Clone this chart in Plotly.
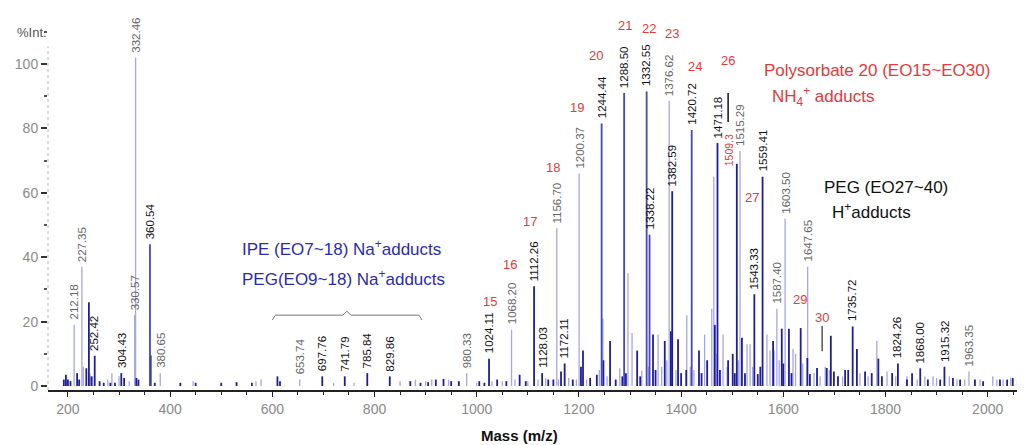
import plotly.graph_objects as go

# ---------------- data ----------------
# labelled peaks (m/z, relative intensity %, tone d=dark, m=mid, l=light)
lab_mz = [212.18, 227.35, 252.42, 304.43, 330.57, 332.46, 360.54, 380.65, 653.74, 697.76,
          741.79, 785.84, 829.86, 980.33, 1024.11, 1068.20, 1112.26, 1128.03, 1156.70, 1172.11,
          1200.37, 1244.44, 1288.50, 1332.55, 1338.22, 1376.62, 1382.59, 1420.72, 1471.18, 1515.29,
          1543.33, 1559.41, 1587.40, 1603.50, 1647.65, 1735.72, 1824.26, 1868.00, 1915.32, 1963.35]
lab_int = [19, 37, 9.4, 4, 22, 102, 44, 4, 2, 3,
           3, 4, 3, 4, 8.5, 17.5, 31, 4, 49, 7,
           66, 81.5, 91, 91.5, 47, 88.5, 60.5, 79.5, 75.5, 73,
           28.5, 65, 24, 52, 37, 18.5, 7, 5.5, 6, 4.5]
lab_tone = ['l', 'l', 'd', 'd', 'l', 'l', 'm', 'l', 'l', 'd',
            'd', 'd', 'd', 'l', 'd', 'l', 'd', 'd', 'l', 'd',
            'l', 'm', 'm', 'm', 'm', 'l', 'd', 'm', 'd', 'l',
            'd', 'd', 'l', 'l', 'l', 'd', 'd', 'd', 'd', 'l']

# unlabelled peaks, dark blue
dark_mz = [192, 196, 200, 205, 218, 222, 236, 241, 246, 262, 270, 283, 292, 310, 334, 338, 362, 370,
           420, 450, 500, 530, 560, 610, 615, 870, 890, 905, 920, 935, 950, 965,
           1005, 1015, 1040, 1058, 1084, 1096, 1140, 1150, 1165, 1188, 1204, 1208,
           1222, 1235, 1248, 1261, 1272, 1285, 1292, 1314, 1320, 1345, 1350, 1368, 1380, 1394,
           1400, 1410, 1435, 1440, 1451, 1466, 1476,
           1492, 1501, 1505, 1509, 1519, 1525, 1550, 1555, 1580, 1597, 1600, 1611, 1616, 1634,
           1647, 1652, 1666, 1685, 1693, 1699, 1707,
           1721, 1727, 1744, 1760, 1773, 1786, 1793, 1813, 1842, 1852, 1883, 1907, 1932, 1946,
           1975, 1991, 2024, 2038, 2049, 2059, 2068]
dark_int = [2, 3.5, 2, 1.5, 4, 2, 5.5, 26, 3, 1.5, 1, 1, 1, 2.5, 2.5, 2, 9.5, 1,
            1, 1, 1, 1.2, 1, 3, 1.5, 1.5, 1, 1.2, 2, 2.2, 1.5, 1.5,
            1.5, 1, 2, 1.5, 3.5, 1.5, 2, 2, 4.5, 2, 6, 11,
            2.5, 3.5, 8, 14, 2, 3, 4, 11, 3, 16, 5, 14, 17, 14.5,
            4, 5, 11, 4, 8, 19, 5,
            8, 10, 4, 69, 15, 4, 3.7, 6, 14, 17.8, 7, 17.8, 4, 18,
            8.7, 3.7, 5.6, 5.6, 15.6, 4.5, 3,
            5, 5, 11.5, 4.5, 4, 8.5, 3, 4, 2, 4, 2, 2, 2.5, 2,
            2, 1.5, 2, 2, 2.5, 2, 1.5]

# unlabelled peaks, light blue
light_mz = [198, 230, 243, 248, 278, 286, 300, 320,
            445, 568, 578, 720, 760, 850, 880, 900, 912, 945,
            1000, 1030, 1050, 1075, 1100, 1120, 1135, 1160, 1180, 1195,
            1215, 1240, 1247, 1255, 1280, 1296, 1304, 1323, 1336, 1355, 1362, 1372, 1390,
            1411, 1418, 1425, 1446, 1460, 1464, 1470,
            1482, 1490, 1512, 1529, 1535, 1540, 1568, 1574, 1582, 1592, 1619, 1624, 1638,
            1660, 1672, 1682, 1690,
            1716, 1750, 1766, 1783, 1803, 1820, 1842, 1862, 1877, 1893, 1900, 1925, 1940,
            1955, 1985, 2010, 2018, 2030, 2045, 2062]
light_int = [1.5, 6, 4, 3, 2, 4, 3, 1.5,
             1.5, 1.5, 2, 1, 1, 1.5, 2, 1.5, 2, 2,
             1, 1.5, 1.5, 2, 1.5, 2, 2.5, 2, 2.5, 2,
             2, 5, 21, 3, 5.5, 35, 16.5, 4.7, 6, 16, 6, 8, 5,
             22, 6, 5, 16, 24, 65, 10,
             16, 6, 8, 13, 13, 6, 16, 11, 11, 8, 11.5, 10, 7,
             4, 3, 6, 5,
             3, 4, 3, 14, 4.5, 3, 3, 2, 3, 3, 2.5, 3, 2,
             2, 2, 3, 2, 2, 2.5, 2]

# series numbers (EO units) for Polysorbate 20 NH4+ adducts
eo_numbers = ['15', '16', '17', '18', '19', '20', '21', '22', '23', '24', '26', '27', '29', '30']
eo_mz = [1026, 1065, 1104, 1149, 1196, 1233, 1290, 1337, 1382, 1427, 1492, 1539, 1632, 1676]
eo_int = [26.3, 37.8, 51.1, 67.8, 86.4, 102.8, 112.1, 111.1, 109.6, 99.1, 101.2, 58.5, 26.9, 21.4]

x_ticks = [200, 400, 600, 800, 1000, 1200, 1400, 1600, 1800, 2000]
y_ticks = [0, 20, 40, 60, 80, 100]

# ---------------- styles ----------------
TONE = {'d': '#1e1e9c', 'm': '#4646c8', 'l': '#a6a6e8'}
LABEL_COL = {'d': '#111111', 'm': '#111111', 'l': '#666666'}
WIDTH = {'d': 1.8, 'm': 1.8, 'l': 1.3}
RED = '#e8383a'
BLUE = '#2b2bb0'
FONT = 'Liberation Sans, Arial, sans-serif'


def sticks(mz, inten):
    xs, ys = [], []
    for m, h in zip(mz, inten):
        xs += [m, m, None]
        ys += [0, h, None]
    return xs, ys


fig = go.Figure()

groups = {
    'l': ([m for m, t in zip(lab_mz, lab_tone) if t == 'l'] + light_mz,
          [h for h, t in zip(lab_int, lab_tone) if t == 'l'] + light_int),
    'd': ([m for m, t in zip(lab_mz, lab_tone) if t == 'd'] + dark_mz,
          [h for h, t in zip(lab_int, lab_tone) if t == 'd'] + dark_int),
    'm': ([m for m, t in zip(lab_mz, lab_tone) if t == 'm'],
          [h for h, t in zip(lab_int, lab_tone) if t == 'm']),
}
for tone in ['l', 'd', 'm']:
    xs, ys = sticks(*groups[tone])
    fig.add_trace(go.Scatter(x=xs, y=ys, mode='lines',
                             line=dict(color=TONE[tone], width=WIDTH[tone]),
                             hoverinfo='skip', showlegend=False))

annotations = []
# peak m/z labels
for m, h, t in zip(lab_mz, lab_int, lab_tone):
    annotations.append(dict(x=m, y=h, xref='x', yref='y', text=f'{m:.2f}',
                            textangle=-90, showarrow=False, xanchor='center',
                            yanchor='bottom', yshift=3,
                            font=dict(family=FONT, size=11.5, color=LABEL_COL[t])))
# extra red rotated label
annotations.append(dict(x=1493, y=67.5, text='1509.3', textangle=-90, showarrow=False,
                        xanchor='center', yanchor='bottom',
                        font=dict(family=FONT, size=10.5, color=RED)))
# EO numbers
for txt, m, h in zip(eo_numbers, eo_mz, eo_int):
    annotations.append(dict(x=m, y=h, text=txt, showarrow=False, xanchor='center',
                            yanchor='middle', font=dict(family=FONT, size=13, color=RED)))

# descriptive texts
annotations += [
    dict(x=1558, y=98.1, text='Polysorbate 20 (EO15~EO30)', showarrow=False,
         xanchor='left', yanchor='middle', font=dict(family=FONT, size=17, color=RED)),
    dict(x=1574, y=89.8, text='NH<sub>4</sub><sup>+</sup> adducts', showarrow=False,
         xanchor='left', yanchor='middle', font=dict(family=FONT, size=17, color=RED)),
    dict(x=1676, y=61.6, text='PEG (EO27~40)', showarrow=False,
         xanchor='left', yanchor='middle', font=dict(family=FONT, size=17, color='#111111')),
    dict(x=1691, y=54.5, text='H<sup>+</sup>adducts', showarrow=False,
         xanchor='left', yanchor='middle', font=dict(family=FONT, size=17, color='#111111')),
    dict(x=536, y=43.0, text='IPE (EO7~18) Na<sup>+</sup>adducts', showarrow=False,
         xanchor='left', yanchor='middle', font=dict(family=FONT, size=17, color=BLUE)),
    dict(x=536, y=33.4, text='PEG(EO9~18) Na<sup>+</sup>adducts', showarrow=False,
         xanchor='left', yanchor='middle', font=dict(family=FONT, size=17, color=BLUE)),
    dict(x=0.483, y=-0.118, xref='paper', yref='paper', text='<b>Mass (m/z)</b>',
         showarrow=False, xanchor='center', yanchor='middle',
         font=dict(family=FONT, size=15, color='#111111')),
    dict(x=-0.034, y=0.935, xref='paper', yref='paper', text='%Int.',
         showarrow=False, xanchor='left', yanchor='middle',
         font=dict(family=FONT, size=13, color='#555555')),
]

# bracket over PEG Na+ cluster
bx = [600, 606, 738, 746, 754, 887, 893]
by = [20.5, 22, 22, 23.2, 22, 22, 20.5]
fig.add_trace(go.Scatter(x=bx, y=by, mode='lines', line=dict(color='#777777', width=1),
                         hoverinfo='skip', showlegend=False))

shapes = [
    dict(type='line', xref='paper', yref='paper', x0=0, x1=0, y0=0, y1=0.9,
         line=dict(color='#bbbbbb', width=1, dash='dot')),
    dict(type='line', xref='x', yref='y', x0=1492, x1=1492, y0=82, y1=91,
         line=dict(color='#111111', width=1.5)),
    dict(type='line', xref='x', yref='y', x0=1676, x1=1676, y0=10.8, y1=18.6,
         line=dict(color='#555555', width=1.5)),
]

# page body has an 8px margin, so the figure is 8px smaller than the window
fig.update_layout(
    width=1017, height=437,
    margin=dict(l=40, r=0, t=0, b=55),
    paper_bgcolor='white', plot_bgcolor='white',
    font=dict(family=FONT),
    annotations=annotations, shapes=shapes,
    xaxis=dict(range=[161, 2073], tickvals=x_ticks, ticktext=[str(v) for v in x_ticks],
               showgrid=False, zeroline=False, showline=True, linecolor='#222222',
               linewidth=1.5, ticks='outside', ticklen=5, tickcolor='#222222',
               minor=dict(dtick=50, tick0=0, ticks='outside', ticklen=3, tickcolor='#222222'),
               tickfont=dict(family=FONT, size=14, color='#8a8a8a')),
    yaxis=dict(range=[-1.24, 117.4], tickvals=y_ticks, ticktext=[str(v) for v in y_ticks],
               showgrid=False, zeroline=False, showline=False,
               ticks='outside', ticklen=6, tickcolor='#333333', tickwidth=1.5,
               minor=dict(dtick=10, tick0=0, ticks='outside', ticklen=3, tickcolor='#555555'),
               tickfont=dict(family=FONT, size=14, color='#8a8a8a')),
)

fig.write_html('out.html')
